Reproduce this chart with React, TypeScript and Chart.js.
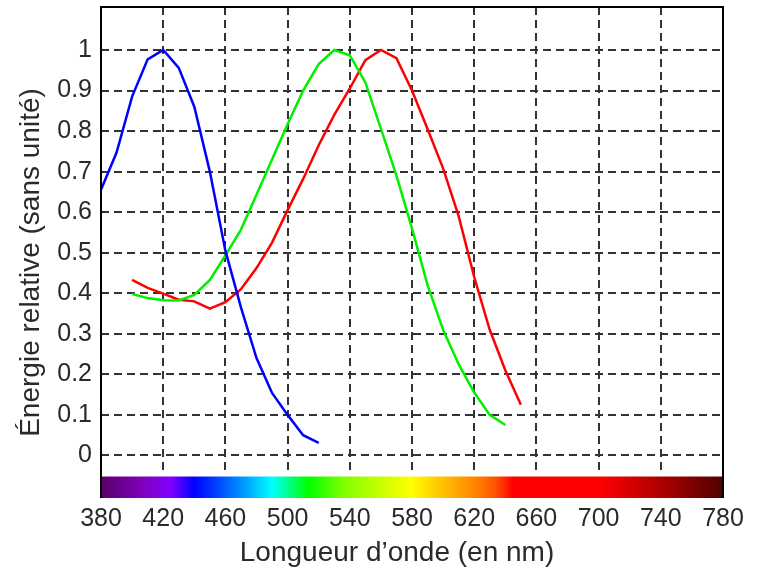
import { useEffect, useRef } from "react";
import { Chart, registerables } from "chart.js";

Chart.register(...registerables);

const blueWavelengths = [380, 390, 400, 410, 420, 430, 440, 450, 460, 470, 480, 490, 500, 510, 520];
const blueValues = [0.655, 0.747, 0.885, 0.977, 1.0, 0.956, 0.86, 0.7, 0.505, 0.365, 0.24, 0.154, 0.1, 0.05, 0.031];

const greenWavelengths = [400, 410, 420, 430, 440, 450, 460, 470, 480, 490, 500, 510, 520, 530, 540, 550, 560, 570, 580, 590, 600, 610, 620, 630, 640];
const greenValues = [0.398, 0.388, 0.383, 0.382, 0.396, 0.433, 0.493, 0.557, 0.643, 0.73, 0.817, 0.9, 0.965, 1.0, 0.987, 0.92, 0.806, 0.69, 0.56, 0.42, 0.31, 0.225, 0.155, 0.1, 0.075];

const redWavelengths = [400, 410, 420, 430, 440, 450, 460, 470, 480, 490, 500, 510, 520, 530, 540, 550, 560, 570, 580, 590, 600, 610, 620, 630, 640, 650];
const redValues = [0.433, 0.413, 0.399, 0.384, 0.38, 0.362, 0.378, 0.41, 0.462, 0.525, 0.605, 0.682, 0.765, 0.84, 0.905, 0.975, 1.0, 0.98, 0.9, 0.805, 0.708, 0.59, 0.44, 0.31, 0.21, 0.125];

const xTickValues = [380, 420, 460, 500, 540, 580, 620, 660, 700, 740, 780];
const yTickValues = [0, 0.1, 0.2, 0.3, 0.4, 0.5, 0.6, 0.7, 0.8, 0.9, 1];

const spectrumStops: [number, string][] = [
  [380, "#5a006a"],
  [408, "#8000c0"],
  [425, "#8000ff"],
  [440, "#0000ff"],
  [457, "#0050ff"],
  [473, "#00a0ff"],
  [490, "#00ffff"],
  [513, "#00ff00"],
  [536, "#80ff00"],
  [557, "#c0ff00"],
  [579, "#ffff00"],
  [600, "#ffc000"],
  [622, "#ff8000"],
  [634, "#ff5000"],
  [645, "#ff0000"],
  [700, "#ff0000"],
  [739, "#b00000"],
  [780, "#500000"],
];

const xTitle = "Longueur d’onde (en nm)";
const yTitle = "Énergie relative (sans unité)";

const FONT = "'Liberation Sans', Arial, sans-serif";
const TEXT_COLOR = "#2a2a2a";

const decorPlugin = {
  id: "decor",
  beforeDatasetsDraw(chart: any) {
    const { ctx, chartArea, scales } = chart;
    const xs = scales.x;
    const ys = scales.y;
    const left = xs.getPixelForValue(380);
    const right = xs.getPixelForValue(780);
    ctx.save();
    const gapTop = ys.getPixelForValue(-0.047);
    ctx.fillStyle = "#ffffff";
    ctx.fillRect(left, gapTop, right - left, chartArea.bottom - gapTop);
    const barTop = ys.getPixelForValue(-0.052);
    const grad = ctx.createLinearGradient(left, 0, right, 0);
    for (const [nm, col] of spectrumStops) {
      grad.addColorStop((nm - 380) / 400, col);
    }
    ctx.fillStyle = grad;
    ctx.fillRect(left, barTop, right - left, chartArea.bottom - barTop);
    ctx.restore();
  },
  afterDraw(chart: any) {
    const { ctx, chartArea } = chart;
    ctx.save();
    ctx.strokeStyle = "#000000";
    ctx.lineWidth = 2;
    ctx.beginPath();
    ctx.moveTo(chartArea.left, chartArea.bottom);
    ctx.lineTo(chartArea.left, chartArea.top);
    ctx.lineTo(chartArea.right, chartArea.top);
    ctx.lineTo(chartArea.right, chartArea.bottom);
    ctx.stroke();
    ctx.fillStyle = TEXT_COLOR;
    ctx.font = `28px ${FONT}`;
    ctx.textAlign = "center";
    ctx.textBaseline = "middle";
    ctx.fillText(xTitle, (chartArea.left + chartArea.right) / 2 - 15, chartArea.bottom + 55);
    ctx.translate(chartArea.left - 70, (chartArea.top + chartArea.bottom) / 2 + 10);
    ctx.rotate(-Math.PI / 2);
    ctx.fillText(yTitle, 0, 0);
    ctx.restore();
  },
};

export default function App() {
  const canvasRef = useRef<HTMLCanvasElement | null>(null);

  useEffect(() => {
    document.body.style.margin = "0";
    const canvas = canvasRef.current;
    if (!canvas) return;
    const toPoints = (xs: number[], ys: number[]) => xs.map((x, i) => ({ x, y: ys[i] }));
    const chart = new Chart(canvas, {
      type: "line",
      data: {
        datasets: [
          { label: "S", data: toPoints(blueWavelengths, blueValues), borderColor: "#0000ff" },
          { label: "M", data: toPoints(greenWavelengths, greenValues), borderColor: "#00f000" },
          { label: "L", data: toPoints(redWavelengths, redValues), borderColor: "#ff0000" },
        ],
      },
      options: {
        animation: false,
        responsive: false,
        devicePixelRatio: 1,
        layout: { padding: { top: 7, right: 36, left: 0, bottom: 0 } },
        elements: {
          line: { borderWidth: 2.5, tension: 0, fill: false },
          point: { radius: 0 },
        },
        plugins: { legend: { display: false }, tooltip: { enabled: false } },
        scales: {
          x: {
            type: "linear",
            min: 380,
            max: 780,
            afterFit: (s: any) => { s.height = 72; s.paddingLeft = 0; s.paddingRight = 0; },
            afterBuildTicks: (s: any) => { s.ticks = xTickValues.map((v) => ({ value: v })); },
            ticks: {
              font: { family: FONT, size: 25 },
              color: TEXT_COLOR,
              padding: 6,
              maxRotation: 0,
              autoSkip: false,
              callback: (v: any) => String(v),
            },
            grid: {
              color: (c: any) => (c.tick && (c.tick.value === 380 || c.tick.value === 780) ? "rgba(0,0,0,0)" : "#333333"),
              lineWidth: 2,
              drawTicks: false,
            },
            border: { display: false, dash: [8, 5] },
          },
          y: {
            type: "linear",
            min: -0.105,
            max: 1.106,
            afterFit: (s: any) => { s.width = 101; s.paddingTop = 0; s.paddingBottom = 0; },
            afterBuildTicks: (s: any) => { s.ticks = yTickValues.map((v) => ({ value: v })); },
            ticks: {
              font: { family: FONT, size: 25 },
              color: TEXT_COLOR,
              padding: 9,
              autoSkip: false,
              callback: (v: any) => String(Math.round(v * 10) / 10),
            },
            grid: { color: "#333333", lineWidth: 2, drawTicks: false },
            border: { display: false, dash: [8, 5] },
          },
        },
      },
      plugins: [decorPlugin],
    });
    return () => chart.destroy();
  }, []);

  return (
    <div style={{ width: 759, height: 570 }}>
      <canvas ref={canvasRef} width={759} height={570} style={{ display: "block" }} />
    </div>
  );
}
